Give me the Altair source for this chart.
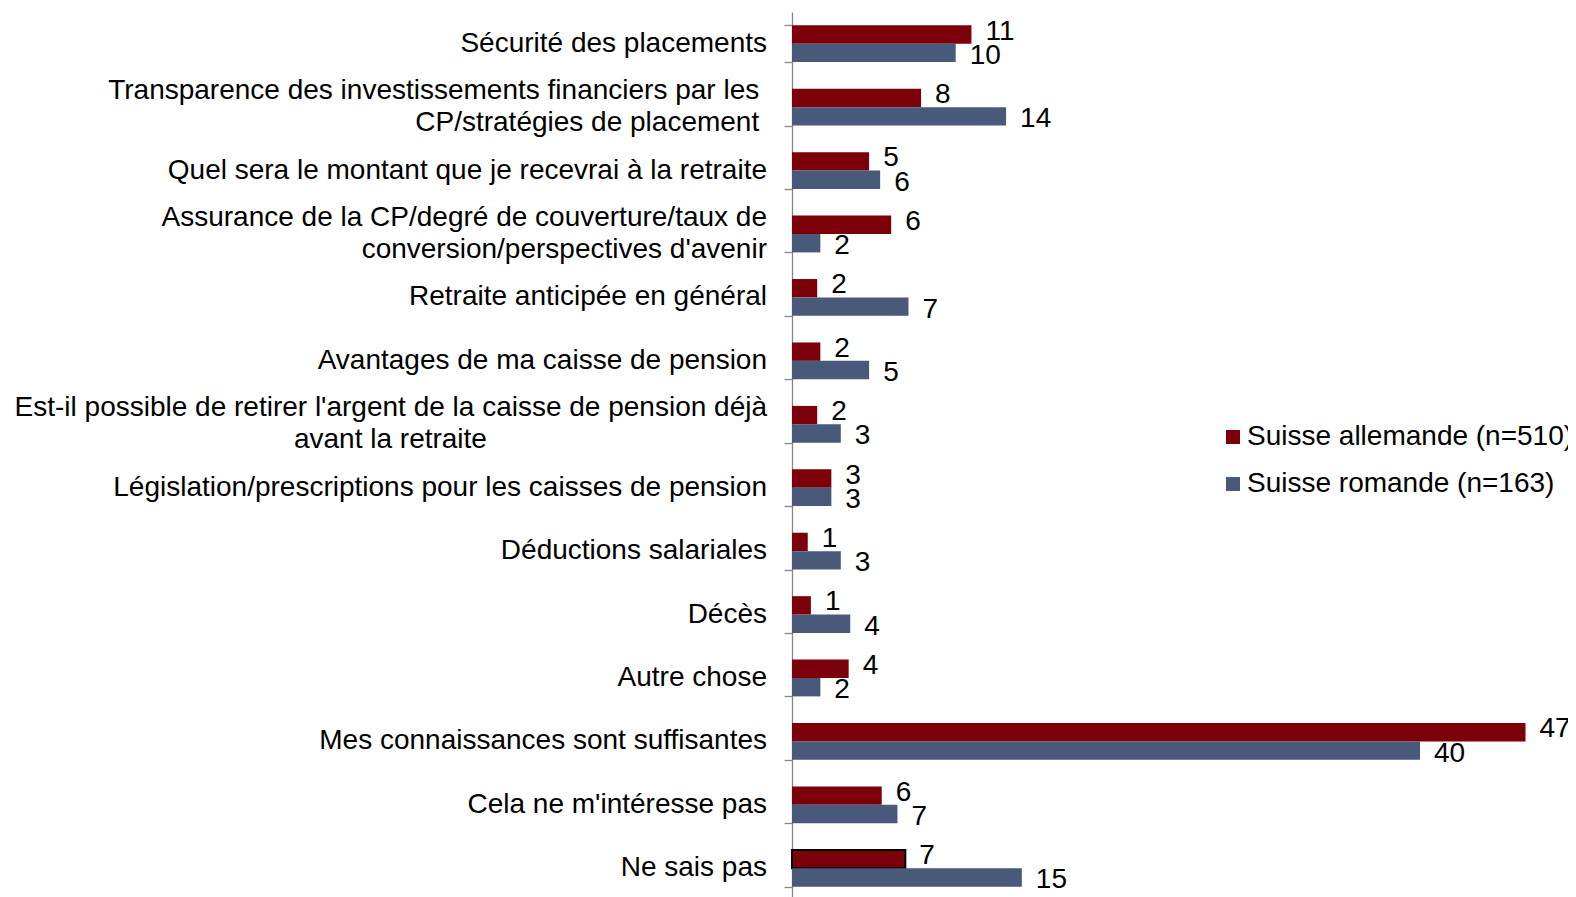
import altair as alt
import pandas as pd

NB = "\u00a0"
ZW = "\u200b"

categories = [
    "Sécurité des placements",
    "Transparence des investissements financiers par les" + NB + ZW + "|CP/stratégies de placement" + NB + ZW,
    "Quel sera le montant que je recevrai à la retraite",
    "Assurance de la CP/degré de couverture/taux de|conversion/perspectives d'avenir",
    "Retraite anticipée en général",
    "Avantages de ma caisse de pension",
    "Est-il possible de retirer l'argent de la caisse de pension déjà|avant la retraite" + NB * 36 + ZW,
    "Législation/prescriptions pour les caisses de pension",
    "Déductions salariales",
    "Décès",
    "Autre chose",
    "Mes connaissances sont suffisantes",
    "Cela ne m'intéresse pas",
    "Ne sais pas",
]

series = ["Suisse allemande (n=510)", "Suisse romande (n=163)"]
colors = ["#7B0009", "#48597A"]

allemande = [11.4, 8.2, 4.9, 6.3, 1.6, 1.8, 1.6, 2.5, 1.0, 1.2, 3.6, 46.6, 5.7, 7.2]
romande = [10.4, 13.6, 5.6, 1.8, 7.4, 4.9, 3.1, 2.5, 3.1, 3.7, 1.8, 39.9, 6.7, 14.6]

df_a = pd.DataFrame({"cat": categories, "s": series[0], "v": allemande})
df_r = pd.DataFrame({"cat": categories, "s": series[1], "v": romande})
df = pd.concat([df_a, df_r], ignore_index=True)

df_one = pd.DataFrame({"cat": [c for c in categories if "|" not in c]})
df_two = pd.DataFrame({"cat": [c for c in categories if "|" in c]})

FONT = "Liberation Sans"
FS = 28

y_enc = alt.Y(
    "cat:N",
    title=None,
    scale=alt.Scale(domain=categories, range=[0, 888], paddingInner=0.42, paddingOuter=0.21),
    axis=alt.Axis(
        labels=False,
        tickBand="extent",
        tickSize=8,
        tickColor="#868686",
        domainColor="#868686",
        tickWidth=1.3,
        domainWidth=1.3,
    ),
)
yoff = alt.YOffset("s:N", sort=series)
x_enc = alt.X("v:Q", scale=alt.Scale(domain=[0, 49.3], nice=False, zero=True), axis=None, title=None)

is_sel = "datum.cat === 'Ne sais pas' && datum.s === 'Suisse allemande (n=510)'"

bars = alt.Chart(df).mark_bar().encode(
    x=x_enc,
    y=y_enc,
    yOffset=yoff,
    color=alt.Color(
        "s:N",
        sort=series,
        scale=alt.Scale(domain=series, range=colors),
        legend=alt.Legend(
            title=None,
            orient="none",
            legendX=427,
            legendY=411,
            symbolType="square",
            symbolSize=196,
            symbolStrokeWidth=0,
            labelFontSize=FS,
            labelFont=FONT,
            labelColor="#000000",
            labelLimit=600,
            rowPadding=19,
            labelOffset=0,
        ),
    ),
    stroke=alt.condition(is_sel, alt.value("#000000"), alt.value("transparent")),
    strokeWidth=alt.condition(is_sel, alt.value(2), alt.value(0)),
)


def value_labels(data, dy):
    return (
        alt.Chart(data)
        .mark_text(align="left", baseline="middle", dx=14, dy=dy, fontSize=FS, font=FONT, color="#000000")
        .encode(x=x_enc, y=y_enc, yOffset=yoff, text=alt.Text("v:Q", format=".0f"))
    )


def cat_labels(data, dy):
    return (
        alt.Chart(data)
        .transform_calculate(lines="split(datum.cat, '|')")
        .mark_text(align="right", baseline="middle", dy=dy, fontSize=FS, font=FONT,
                   color="#000000", lineHeight=32)
        .encode(y=y_enc, x=alt.value(-25), text="lines:N")
    )


chart = (
    alt.layer(
        bars,
        value_labels(df_a, -3),
        value_labels(df_r, 3),
        cat_labels(df_one, 0),
        cat_labels(df_two, -16),
    )
    .properties(
        width=776,
        height=885,
        padding={"left": 784, "top": 4, "right": 0, "bottom": 0},
        autosize="none",
    )
    .configure(font=FONT, background="white")
    .configure_view(stroke=None)
)

chart.save("out.html", embed_options={"renderer": "svg", "actions": False})
